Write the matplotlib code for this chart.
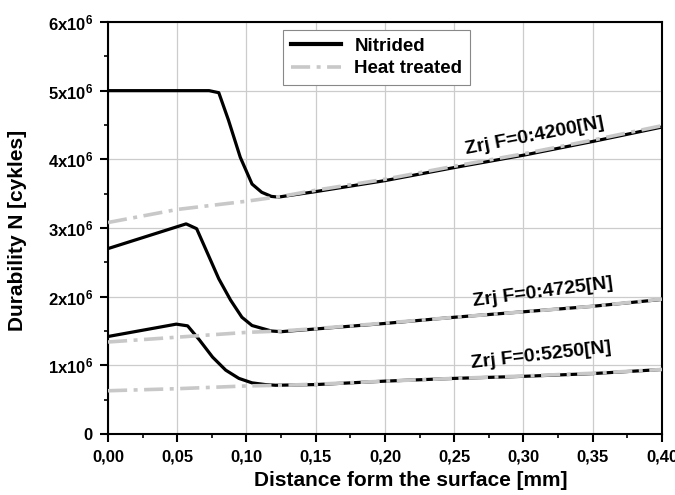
import matplotlib
matplotlib.use("Agg")
import matplotlib.pyplot as plt
from matplotlib.ticker import MultipleLocator, FixedLocator

plt.rcParams["font.family"] = ["Liberation Sans", "DejaVu Sans"]
plt.rcParams["font.weight"] = "bold"
plt.rcParams["mathtext.fontset"] = "custom"
plt.rcParams["mathtext.rm"] = "Liberation Sans"
plt.rcParams["mathtext.bf"] = "Liberation Sans:bold"

# Durability [x1e6 cycles] vs distance from surface [mm]
nit1_x = [0, 0.073, 0.080, 0.087, 0.0955, 0.104, 0.111, 0.118, 0.123, 0.15, 0.20, 0.25, 0.30, 0.35, 0.40]
nit1_y = [5.0, 5.0, 4.97, 4.57, 4.03, 3.64, 3.52, 3.46, 3.45, 3.53, 3.69, 3.88, 4.06, 4.26, 4.47]
heat1_x = [0, 0.05, 0.10, 0.125, 0.15, 0.20, 0.25, 0.30, 0.35, 0.40]
heat1_y = [3.08, 3.27, 3.39, 3.46, 3.55, 3.71, 3.90, 4.08, 4.28, 4.49]

nit2_x = [0, 0.0564, 0.064, 0.073, 0.080, 0.0885, 0.0967, 0.104, 0.111, 0.118, 0.125,
          0.15, 0.20, 0.25, 0.30, 0.35, 0.40]
nit2_y = [2.70, 3.06, 2.99, 2.58, 2.26, 1.95, 1.70, 1.58, 1.54, 1.50, 1.49,
          1.53, 1.61, 1.70, 1.78, 1.86, 1.96]
heat2_x = [0, 0.05, 0.10, 0.125, 0.15, 0.20, 0.25, 0.30, 0.35, 0.40]
heat2_y = [1.34, 1.41, 1.48, 1.50, 1.535, 1.615, 1.70, 1.78, 1.86, 1.965]

nit3_x = [0, 0.0493, 0.0575, 0.066, 0.0755, 0.085, 0.0945, 0.104, 0.1135, 0.121,
          0.15, 0.20, 0.25, 0.30, 0.35, 0.40]
nit3_y = [1.42, 1.60, 1.575, 1.37, 1.12, 0.93, 0.81, 0.745, 0.72, 0.71,
          0.72, 0.77, 0.81, 0.84, 0.88, 0.94]
heat3_x = [0, 0.05, 0.10, 0.125, 0.15, 0.20, 0.25, 0.30, 0.35, 0.40]
heat3_y = [0.63, 0.66, 0.70, 0.71, 0.725, 0.77, 0.81, 0.845, 0.885, 0.94]

labels = ["Zrj F=0:4200[N]", "Zrj F=0:4725[N]", "Zrj F=0:5250[N]"]
label_x = [0.308, 0.314, 0.313]
label_y = [4.33, 2.06, 1.14]
label_rot = [11, 7.5, 6.5]

x_ticks = [0, 0.05, 0.10, 0.15, 0.20, 0.25, 0.30, 0.35, 0.40]
y_ticks = [0, 1, 2, 3, 4, 5, 6]

M = 1e6
GRAY = "#c8c8c8"
DASH = (5.3, 1.8, 1.1, 1.8)

fig = plt.figure(figsize=(6.75, 4.95), dpi=100)
ax = fig.add_axes([0.16, 0.1232, 0.8207, 0.8324])

pairs = [(nit1_x, nit1_y, heat1_x, heat1_y),
         (nit2_x, nit2_y, heat2_x, heat2_y),
         (nit3_x, nit3_y, heat3_x, heat3_y)]
for i, (nx, ny, hx, hy) in enumerate(pairs):
    ax.plot(nx, [v * M for v in ny], color="black", lw=2.3, zorder=3,
            label="Nitrided" if i == 0 else None)
    ax.plot(hx, [v * M for v in hy], color=GRAY, lw=2.6, dashes=DASH, zorder=4,
            label="Heat treated" if i == 0 else None)

for txt, tx, ty, rot in zip(labels, label_x, label_y, label_rot):
    ax.text(tx, ty * M, txt, rotation=rot, ha="center", va="center",
            fontsize=14, fontweight="bold", rotation_mode="anchor", zorder=5)

ax.set_xlim(0, 0.40)
ax.set_ylim(0, 6 * M)
ax.xaxis.set_major_locator(FixedLocator(x_ticks))
ax.xaxis.set_minor_locator(MultipleLocator(0.025))
ax.set_xticklabels([f"{v:.2f}".replace(".", ",") for v in x_ticks])
ax.yaxis.set_major_locator(FixedLocator([v * M for v in y_ticks]))
ax.yaxis.set_minor_locator(MultipleLocator(0.5 * M))
ax.set_yticklabels(["0"] + [r"$\mathbf{%dx10^{6}}$" % v for v in y_ticks[1:]])

ax.tick_params(which="major", length=6, width=1.5, labelsize=12, direction="out", pad=5)
ax.tick_params(which="minor", length=3, width=1.2, direction="out")
for s in ax.spines.values():
    s.set_linewidth(1.5)
ax.grid(True, which="major", color="#cccccc", lw=0.9)
ax.set_axisbelow(True)

ax.set_xlabel("Distance form the surface [mm]", fontsize=15, fontweight="bold")
ax.set_ylabel("Durability N [cykles]", fontsize=15, fontweight="bold")
ax.xaxis.set_label_coords(0.547, -0.114)
ax.yaxis.set_label_coords(-0.163, 0.495)
ax.xaxis.label.set_va("center")
ax.yaxis.label.set_va("center")

leg = ax.legend(loc="upper left", bbox_to_anchor=(283 / 675, 1 - 30 / 495),
                bbox_transform=fig.transFigure, borderaxespad=0, fontsize=13.5,
                handlelength=2.7, handletextpad=0.7, fancybox=False,
                framealpha=1, edgecolor="#888888", borderpad=0.4, labelspacing=0.3)
leg.get_frame().set_linewidth(0.8)
leg.get_lines()[0].set_linewidth(3)

fig.savefig("out.png", dpi=100)
